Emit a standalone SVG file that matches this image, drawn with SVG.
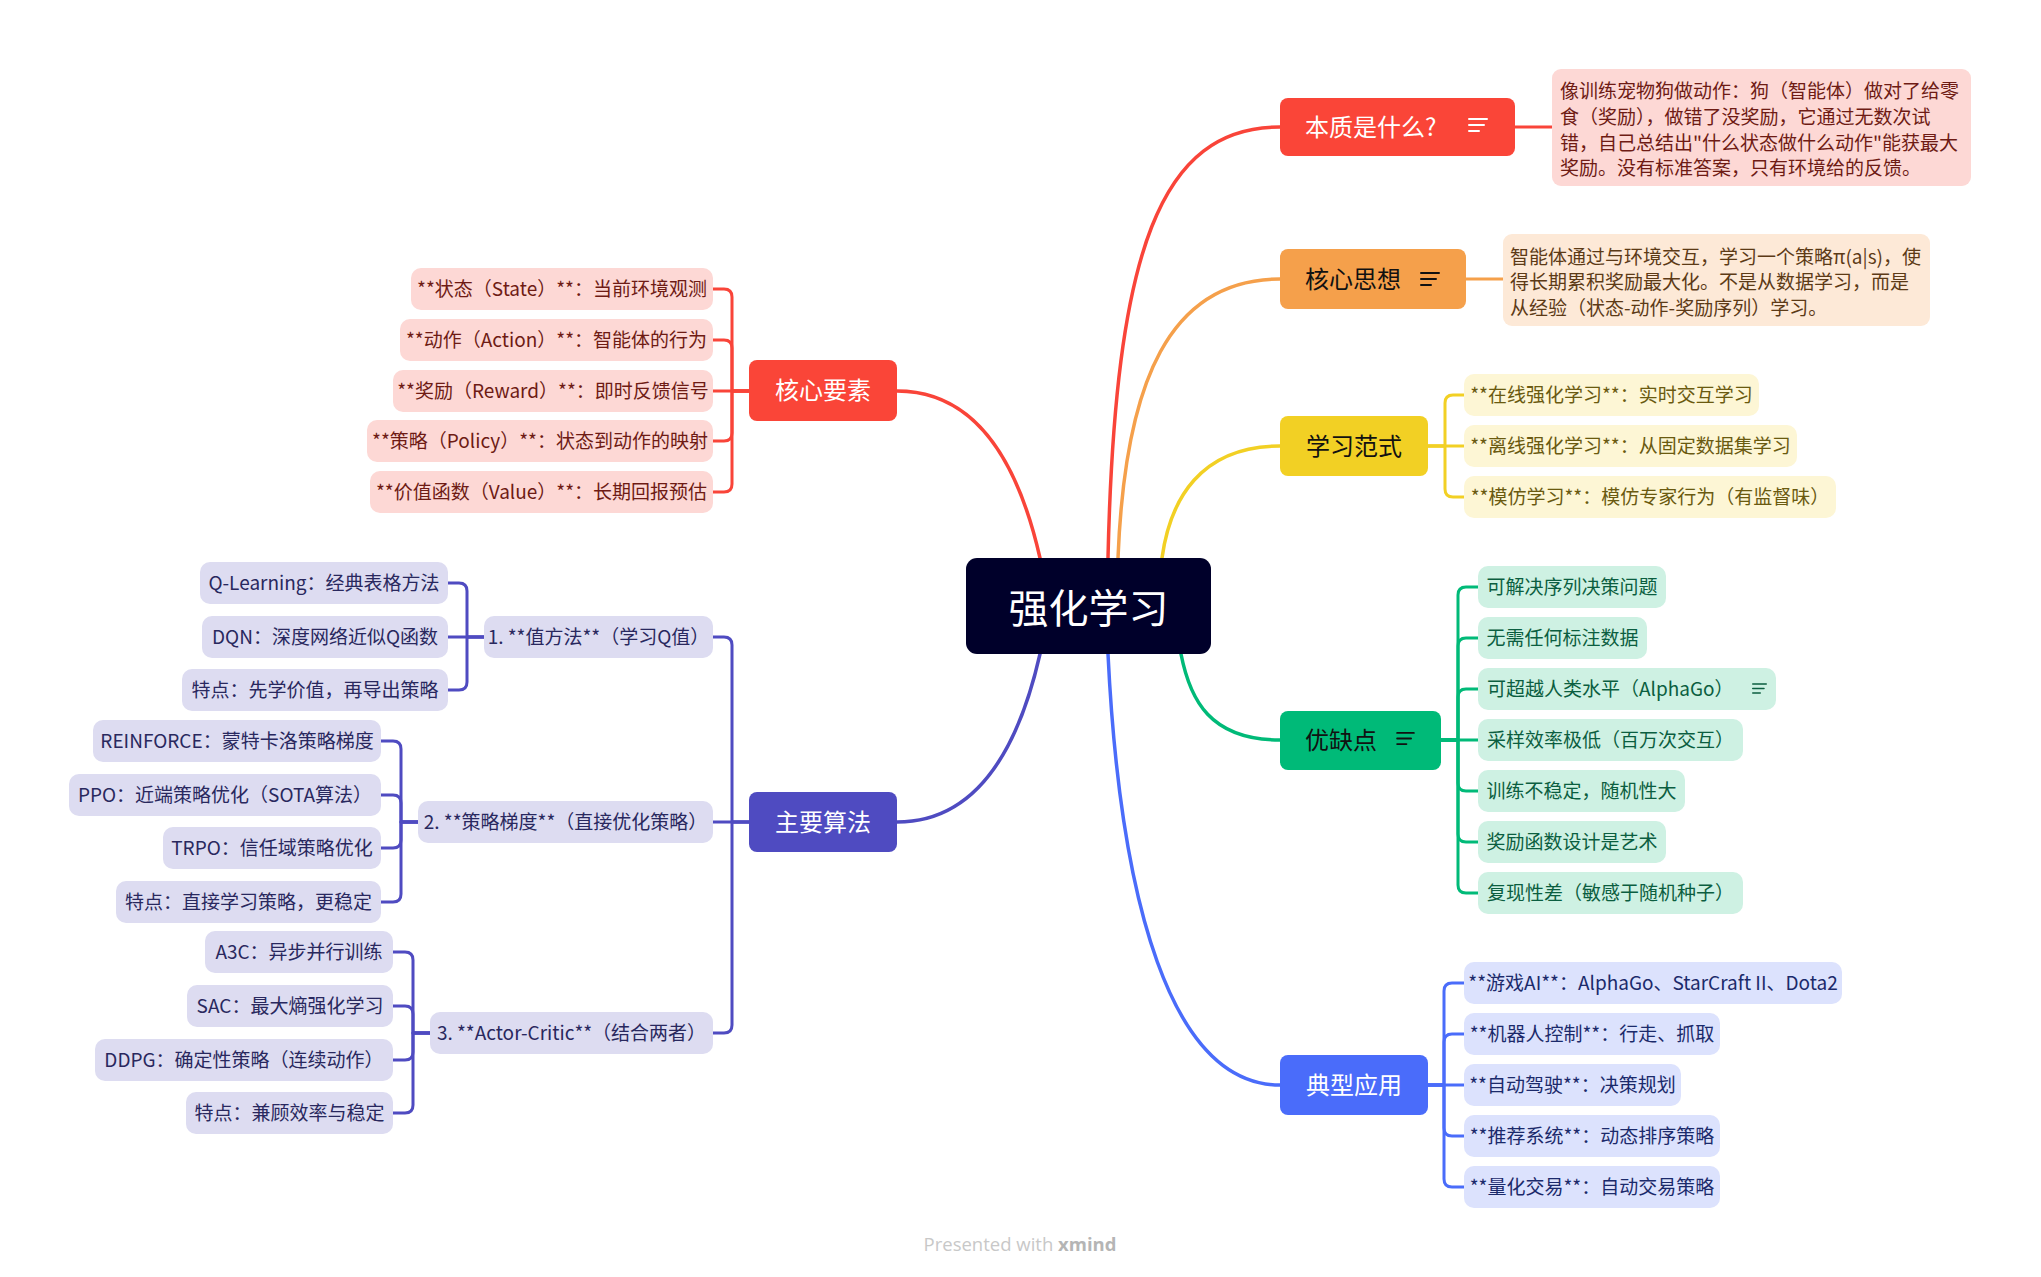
<svg xmlns="http://www.w3.org/2000/svg" width="2041" height="1277" viewBox="0 0 2041 1277">
<style>
text{font-family:"Noto Sans CJK SC","Noto Sans",sans-serif}
.t19{font-size:19px}
.t24{font-size:24px}
.mid{text-anchor:middle}
.ln{fill:none;stroke-width:3;stroke-linecap:round;stroke-linejoin:round}
.br{fill:none;stroke-width:3.5;stroke-linecap:round}
.cr{stroke:#f94439}.co{stroke:#f5a04b}.cy{stroke:#f2d024}.cg{stroke:#00ba78}.cb{stroke:#4a6cfa}.cp{stroke:#4f4bc1}
.rL{fill:#fdd8d5}.oL{fill:#fde9d7}.yL{fill:#fdf6d5}.gL{fill:#cef1e3}.bL{fill:#dce2fd}.pL{fill:#dddcf1}
.rT{fill:#6e1b14}.oT{fill:#5c3a16}.yT{fill:#6a5a10}.gT{fill:#0b5e40}.bT{fill:#1b2a6b}.pT{fill:#29285e}
</style>
<defs>
<symbol id="note" viewBox="0 0 20 14" overflow="visible">
<path d="M1 1H19M1 7H16M1 13H11" stroke="currentColor" stroke-width="2" fill="none" stroke-linecap="round"/>
</symbol>
</defs>
<rect width="2041" height="1277" fill="#ffffff"/>

<g id="connectors">
<path class="br cr" d="M897 391 C980 391 1020 470 1040 558"/>
<path class="br cp" d="M897 822 C980 822 1020 742 1040 654"/>
<path class="br cr" d="M1280 127 C1160 127 1115 250 1108 558"/>
<path class="br co" d="M1280 279 C1170 279 1125 380 1118 558"/>
<path class="br cy" d="M1280 446 C1200 446 1170 500 1162 558"/>
<path class="br cg" d="M1280 740 C1210 740 1190 700 1181 654"/>
<path class="br cb" d="M1108 654 C1120 900 1170 1085 1280 1085"/>

<path class="ln cr" d="M1515 127 H1552"/>
<path class="ln co" d="M1466 279 H1503"/>

<path class="ln cr" d="M750 391 H732 V297 Q732 289 724 289 H713"/>
<path class="ln cr" d="M750 391 H732 V348 Q732 340 724 340 H713"/>
<path class="ln cr" d="M750 391 H713"/>
<path class="ln cr" d="M750 391 H732 V433 Q732 441 724 441 H713"/>
<path class="ln cr" d="M750 391 H732 V484 Q732 492 724 492 H713"/>

<path class="ln cp" d="M750 822 H732 V645 Q732 637 724 637 H713"/>
<path class="ln cp" d="M750 822 H713"/>
<path class="ln cp" d="M750 822 H732 V1025 Q732 1033 724 1033 H713"/>

<path class="ln cp" d="M484 637 H467 V591 Q467 583 459 583 H448"/>
<path class="ln cp" d="M484 637 H448"/>
<path class="ln cp" d="M484 637 H467 V682 Q467 690 459 690 H448"/>

<path class="ln cp" d="M418 822 H401 V749 Q401 741 393 741 H381"/>
<path class="ln cp" d="M418 822 H401 V803 Q401 795 393 795 H381"/>
<path class="ln cp" d="M418 822 H401 V840 Q401 848 393 848 H381"/>
<path class="ln cp" d="M418 822 H401 V894 Q401 902 393 902 H381"/>

<path class="ln cp" d="M430 1033 H413 V960 Q413 952 405 952 H393"/>
<path class="ln cp" d="M430 1033 H413 V1014 Q413 1006 405 1006 H393"/>
<path class="ln cp" d="M430 1033 H413 V1052 Q413 1060 405 1060 H393"/>
<path class="ln cp" d="M430 1033 H413 V1105 Q413 1113 405 1113 H393"/>

<path class="ln cy" d="M1428 446 H1445 V403 Q1445 395 1453 395 H1464"/>
<path class="ln cy" d="M1428 446 H1464"/>
<path class="ln cy" d="M1428 446 H1445 V489 Q1445 497 1453 497 H1464"/>

<path class="ln cg" d="M1441 740 H1458 V595 Q1458 587 1466 587 H1478"/>
<path class="ln cg" d="M1441 740 H1458 V646 Q1458 638 1466 638 H1478"/>
<path class="ln cg" d="M1441 740 H1458 V697 Q1458 689 1466 689 H1478"/>
<path class="ln cg" d="M1441 740 H1478"/>
<path class="ln cg" d="M1441 740 H1458 V783 Q1458 791 1466 791 H1478"/>
<path class="ln cg" d="M1441 740 H1458 V834 Q1458 842 1466 842 H1478"/>
<path class="ln cg" d="M1441 740 H1458 V885 Q1458 893 1466 893 H1478"/>

<path class="ln cb" d="M1428 1085 H1444 V991 Q1444 983 1452 983 H1464"/>
<path class="ln cb" d="M1428 1085 H1444 V1042 Q1444 1034 1452 1034 H1464"/>
<path class="ln cb" d="M1428 1085 H1464"/>
<path class="ln cb" d="M1428 1085 H1444 V1128 Q1444 1136 1452 1136 H1464"/>
<path class="ln cb" d="M1428 1085 H1444 V1179 Q1444 1187 1452 1187 H1464"/>
</g>

<g id="root">
<rect x="966" y="558" width="245" height="96" rx="11" fill="#00002a"/>
<text x="1088.5" y="623" class="mid" font-size="40" fill="#ffffff">强化学习</text>
</g>

<g id="t-benzhi">
<rect x="1280" y="98" width="235" height="58" rx="8" fill="#fa4538"/>
<text x="1305" y="136" class="t24" fill="#ffffff">本质是什么?</text>
<use href="#note" x="1468" y="118" width="20" height="14" color="#ffffff"/>
</g>
<g id="n-benzhi">
<rect x="1552" y="69" width="419" height="117" rx="9" class="rL"/>
<text class="t19 rT" x="1560"><tspan x="1560" y="98">像训练宠物狗做动作：狗（智能体）做对了给零</tspan><tspan x="1560" y="124">食（奖励），做错了没奖励，它通过无数次试</tspan><tspan x="1560" y="150">错，自己总结出"什么状态做什么动作"能获最大</tspan><tspan x="1560" y="175">奖励。没有标准答案，只有环境给的反馈。</tspan></text>
</g>

<g id="t-hexinsixiang">
<rect x="1280" y="249" width="186" height="60" rx="8" fill="#f5a04b"/>
<text x="1305" y="288" class="t24" fill="#111111">核心思想</text>
<use href="#note" x="1420" y="272" width="20" height="14" color="#111111"/>
</g>
<g id="n-hexinsixiang">
<rect x="1503" y="234" width="427" height="92" rx="9" class="oL"/>
<text class="t19 oT"><tspan x="1510" y="264">智能体通过与环境交互，学习一个策略π(a|s)，使</tspan><tspan x="1510" y="289">得长期累积奖励最大化。不是从数据学习，而是</tspan><tspan x="1510" y="315">从经验（状态-动作-奖励序列）学习。</tspan></text>
</g>

<g id="t-fanshi">
<rect x="1280" y="416" width="148" height="60" rx="8" fill="#f2d024"/>
<text x="1354" y="455" class="t24 mid" fill="#111111">学习范式</text>
</g>
<g id="s-fanshi-1"><rect x="1464" y="374" width="295" height="42" rx="10" class="yL"/><text x="1611.5" y="402" class="t19 mid yT">**在线强化学习**：实时交互学习</text></g>
<g id="s-fanshi-2"><rect x="1464" y="425" width="333" height="42" rx="10" class="yL"/><text x="1630.5" y="453" class="t19 mid yT">**离线强化学习**：从固定数据集学习</text></g>
<g id="s-fanshi-3"><rect x="1464" y="476" width="372" height="42" rx="10" class="yL"/><text x="1650" y="504" class="t19 mid yT">**模仿学习**：模仿专家行为（有监督味）</text></g>

<g id="t-youque">
<rect x="1280" y="711" width="161" height="59" rx="8" fill="#00ba78"/>
<text x="1305" y="749" class="t24" fill="#111111">优缺点</text>
<use href="#note" x="1396" y="732" width="19" height="13" color="#111111"/>
</g>
<g id="s-youque-1"><rect x="1478" y="566" width="188" height="42" rx="10" class="gL"/><text x="1572" y="594" class="t19 mid gT">可解决序列决策问题</text></g>
<g id="s-youque-2"><rect x="1478" y="617" width="169" height="42" rx="10" class="gL"/><text x="1562.5" y="645" class="t19 mid gT">无需任何标注数据</text></g>
<g id="s-youque-3"><rect x="1478" y="668" width="298" height="42" rx="10" class="gL"/><text x="1487" y="696" class="t19 gT">可超越人类水平（AlphaGo）</text><use href="#note" x="1752" y="683" width="15" height="11" color="#0b5e40"/></g>
<g id="s-youque-4"><rect x="1478" y="719" width="265" height="42" rx="10" class="gL"/><text x="1610.5" y="747" class="t19 mid gT">采样效率极低（百万次交互）</text></g>
<g id="s-youque-5"><rect x="1478" y="770" width="207" height="42" rx="10" class="gL"/><text x="1581.5" y="798" class="t19 mid gT">训练不稳定，随机性大</text></g>
<g id="s-youque-6"><rect x="1478" y="821" width="188" height="42" rx="10" class="gL"/><text x="1572" y="849" class="t19 mid gT">奖励函数设计是艺术</text></g>
<g id="s-youque-7"><rect x="1478" y="872" width="265" height="42" rx="10" class="gL"/><text x="1610.5" y="900" class="t19 mid gT">复现性差（敏感于随机种子）</text></g>

<g id="t-yingyong">
<rect x="1280" y="1055" width="148" height="60" rx="8" fill="#4a6cfa"/>
<text x="1354" y="1094" class="t24 mid" fill="#ffffff">典型应用</text>
</g>
<g id="s-yingyong-1"><rect x="1464" y="962" width="378" height="42" rx="10" class="bL"/><text x="1653" y="990" class="t19 mid bT">**游戏AI**：AlphaGo、StarCraft II、Dota2</text></g>
<g id="s-yingyong-2"><rect x="1464" y="1013" width="256" height="42" rx="10" class="bL"/><text x="1592" y="1041" class="t19 mid bT">**机器人控制**：行走、抓取</text></g>
<g id="s-yingyong-3"><rect x="1464" y="1064" width="217" height="42" rx="10" class="bL"/><text x="1572.5" y="1092" class="t19 mid bT">**自动驾驶**：决策规划</text></g>
<g id="s-yingyong-4"><rect x="1464" y="1115" width="256" height="42" rx="10" class="bL"/><text x="1592" y="1143" class="t19 mid bT">**推荐系统**：动态排序策略</text></g>
<g id="s-yingyong-5"><rect x="1464" y="1166" width="256" height="42" rx="10" class="bL"/><text x="1592" y="1194" class="t19 mid bT">**量化交易**：自动交易策略</text></g>

<g id="t-yaosu">
<rect x="749" y="360" width="148" height="61" rx="8" fill="#fa4538"/>
<text x="823" y="399" class="t24 mid" fill="#ffffff">核心要素</text>
</g>
<g id="s-yaosu-1"><rect x="411" y="268" width="302" height="42" rx="10" class="rL"/><text x="562" y="296" class="t19 mid rT">**状态（State）**：当前环境观测</text></g>
<g id="s-yaosu-2"><rect x="400" y="319" width="313" height="42" rx="10" class="rL"/><text x="556.5" y="347" class="t19 mid rT">**动作（Action）**：智能体的行为</text></g>
<g id="s-yaosu-3"><rect x="393" y="370" width="320" height="42" rx="10" class="rL"/><text x="553" y="398" class="t19 mid rT">**奖励（Reward）**：即时反馈信号</text></g>
<g id="s-yaosu-4"><rect x="367" y="420" width="346" height="42" rx="10" class="rL"/><text x="540" y="448" class="t19 mid rT">**策略（Policy）**：状态到动作的映射</text></g>
<g id="s-yaosu-5"><rect x="370" y="471" width="343" height="42" rx="10" class="rL"/><text x="541.5" y="499" class="t19 mid rT">**价值函数（Value）**：长期回报预估</text></g>

<g id="t-suanfa">
<rect x="749" y="792" width="148" height="60" rx="8" fill="#4f4bc1"/>
<text x="823" y="831" class="t24 mid" fill="#ffffff">主要算法</text>
</g>
<g id="s-suanfa-1"><rect x="484" y="616" width="229" height="42" rx="10" class="pL"/><text x="598.5" y="644" class="t19 mid pT">1. **值方法**（学习Q值）</text></g>
<g id="s-suanfa-2"><rect x="418" y="801" width="295" height="42" rx="10" class="pL"/><text x="565.5" y="829" class="t19 mid pT">2. **策略梯度**（直接优化策略）</text></g>
<g id="s-suanfa-3"><rect x="430" y="1012" width="283" height="42" rx="10" class="pL"/><text x="571.5" y="1040" class="t19 mid pT">3. **Actor-Critic**（结合两者）</text></g>

<g id="s-g1-1"><rect x="200" y="562" width="248" height="42" rx="10" class="pL"/><text x="324" y="590" class="t19 mid pT">Q-Learning：经典表格方法</text></g>
<g id="s-g1-2"><rect x="202" y="616" width="246" height="42" rx="10" class="pL"/><text x="325" y="644" class="t19 mid pT">DQN：深度网络近似Q函数</text></g>
<g id="s-g1-3"><rect x="182" y="669" width="266" height="42" rx="10" class="pL"/><text x="315" y="697" class="t19 mid pT">特点：先学价值，再导出策略</text></g>

<g id="s-g2-1"><rect x="93" y="720" width="288" height="42" rx="10" class="pL"/><text x="237" y="748" class="t19 mid pT">REINFORCE：蒙特卡洛策略梯度</text></g>
<g id="s-g2-2"><rect x="69" y="774" width="312" height="42" rx="10" class="pL"/><text x="225" y="802" class="t19 mid pT">PPO：近端策略优化（SOTA算法）</text></g>
<g id="s-g2-3"><rect x="163" y="827" width="218" height="42" rx="10" class="pL"/><text x="272" y="855" class="t19 mid pT">TRPO：信任域策略优化</text></g>
<g id="s-g2-4"><rect x="116" y="881" width="265" height="42" rx="10" class="pL"/><text x="248.5" y="909" class="t19 mid pT">特点：直接学习策略，更稳定</text></g>

<g id="s-g3-1"><rect x="205" y="931" width="188" height="42" rx="10" class="pL"/><text x="299" y="959" class="t19 mid pT">A3C：异步并行训练</text></g>
<g id="s-g3-2"><rect x="187" y="985" width="206" height="42" rx="10" class="pL"/><text x="290" y="1013" class="t19 mid pT">SAC：最大熵强化学习</text></g>
<g id="s-g3-3"><rect x="95" y="1039" width="298" height="42" rx="10" class="pL"/><text x="244" y="1067" class="t19 mid pT">DDPG：确定性策略（连续动作）</text></g>
<g id="s-g3-4"><rect x="186" y="1092" width="207" height="42" rx="10" class="pL"/><text x="289.5" y="1120" class="t19 mid pT">特点：兼顾效率与稳定</text></g>

<text x="1020" y="1251" text-anchor="middle" font-size="18.5" fill="#c8c8c8" style="font-family:'Open Sans',sans-serif">Presented with <tspan font-weight="bold" fill="#b5b5b5">xmind</tspan></text>
</svg>
